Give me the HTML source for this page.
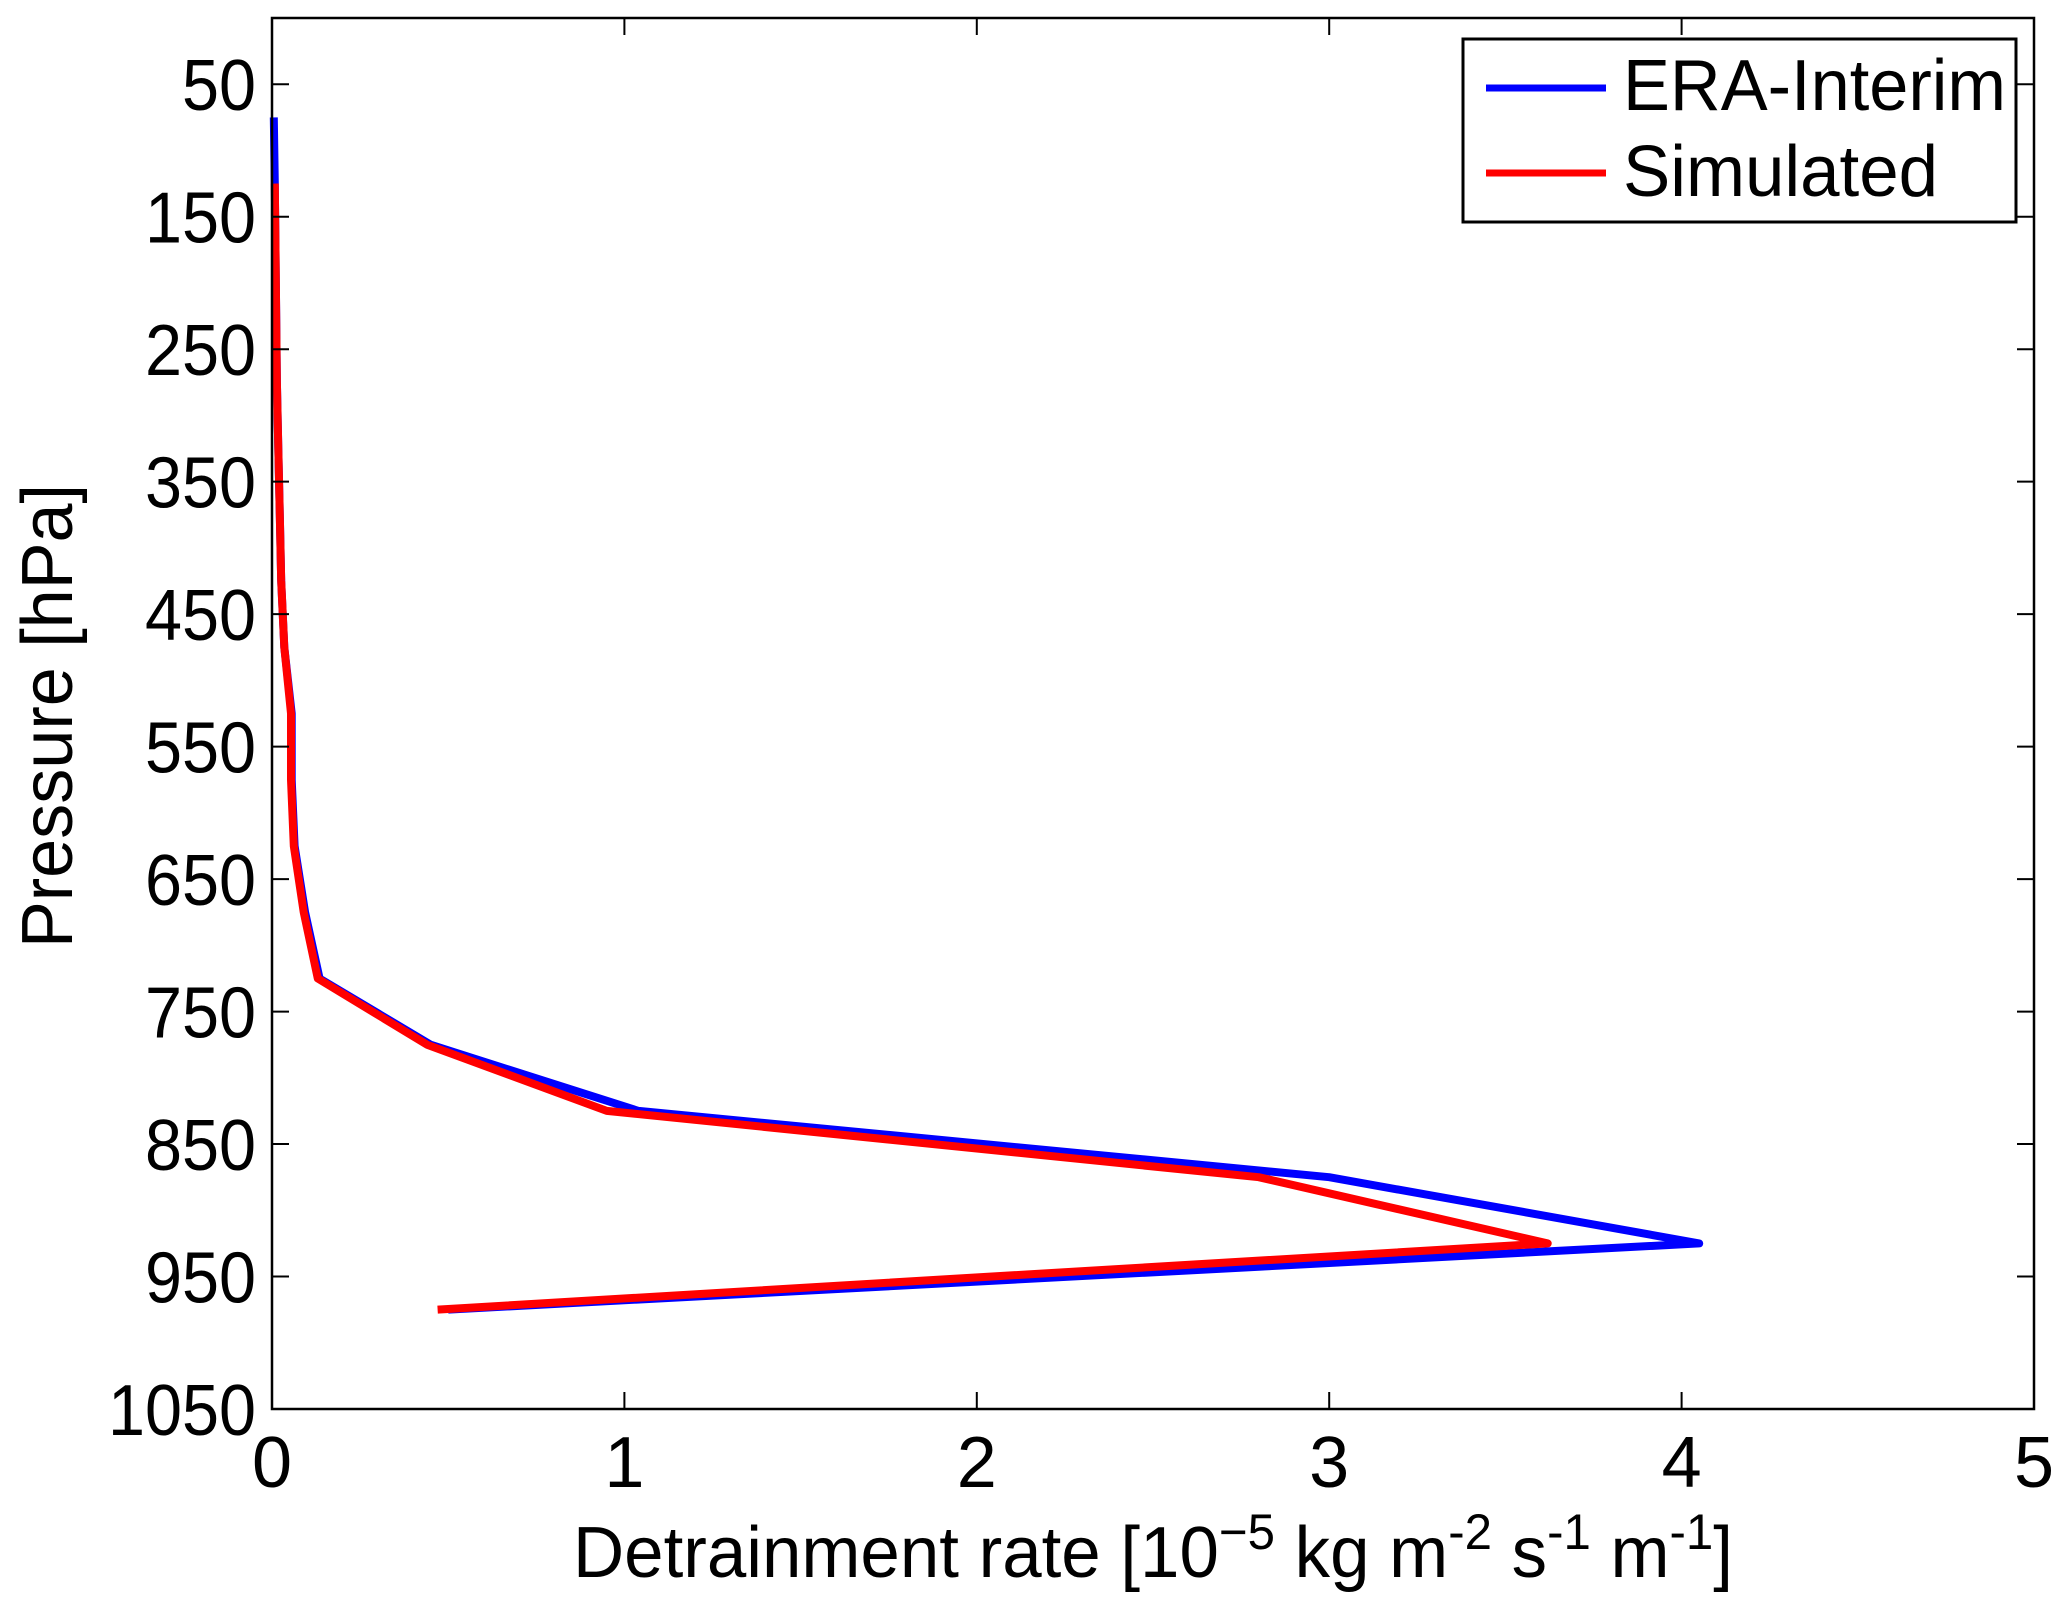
<!DOCTYPE html>
<html><head><meta charset="utf-8">
<style>
html,body{margin:0;padding:0;background:#fff;}
svg{display:block;font-family:"Liberation Sans",Arial,sans-serif;}
</style></head>
<body>
<svg id="chart" width="2067" height="1610" viewBox="0 0 2067 1610">
  <rect x="0" y="0" width="2067" height="1610" fill="#fff"/>
  <g id="plot"></g>
  <g id="axes"></g>
  <g id="legend">
    <rect x="1463" y="39" width="553" height="183" fill="#fff" stroke="#000" stroke-width="3"/>
    <line x1="1486" y1="88" x2="1606" y2="88" stroke="#0000ff" stroke-width="7"/>
    <text x="1623" y="110" font-size="72" textLength="383" lengthAdjust="spacingAndGlyphs">ERA-Interim</text>
    <line x1="1486" y1="173" x2="1606" y2="173" stroke="#ff0000" stroke-width="7"/>
    <text x="1623" y="196" font-size="72" textLength="315" lengthAdjust="spacingAndGlyphs">Simulated</text>
  </g>
  <text x="1153" y="1577" font-size="72" text-anchor="middle" textLength="1160" lengthAdjust="spacingAndGlyphs">Detrainment rate [10<tspan dy="-28" font-size="50">−5</tspan><tspan dy="28"> kg m</tspan><tspan dy="-28" font-size="50">-2</tspan><tspan dy="28"> s</tspan><tspan dy="-28" font-size="50">-1</tspan><tspan dy="28"> m</tspan><tspan dy="-28" font-size="50">-1</tspan><tspan dy="28">]</tspan></text>
  <text transform="translate(72,716) rotate(-90)" font-size="72" text-anchor="middle" textLength="464" lengthAdjust="spacingAndGlyphs">Pressure [hPa]</text>
</svg>
<script>
const pressureLevels = [75,125,175,225,275,325,375,425,475,525,575,625,675,725,775,825,875,925,975];
const eraValues = [0.005,0.008,0.010,0.012,0.014,0.018,0.022,0.026,0.035,0.056,0.056,0.064,0.094,0.135,0.45,1.04,3.0,4.05,0.5];
const simLevels = [125,175,225,275,325,375,425,475,525,575,625,675,725,775,825,875,925,975];
const simValues = [0.008,0.010,0.012,0.014,0.018,0.022,0.026,0.035,0.054,0.054,0.062,0.09,0.13,0.44,0.95,2.8,3.62,0.47];
const xTicks = [0,1,2,3,4,5];
const yTicks = [50,150,250,350,450,550,650,750,850,950,1050];

const L=272,R=2034,T=18,B=1409;
const xMin=0,xMax=5,yMin=0,yMax=1050;
function xs(v){return L+(v-xMin)/(xMax-xMin)*(R-L);}
function ys(p){return T+(p-yMin)/(yMax-yMin)*(B-T);}
const NS="http://www.w3.org/2000/svg";
const plot=document.getElementById('plot');
const axes=document.getElementById('axes');

function mk(tag,attrs,parent){const e=document.createElementNS(NS,tag);for(const k in attrs)e.setAttribute(k,attrs[k]);parent.appendChild(e);return e;}

function series(vals,levels,color,name){
  const d=vals.map((v,i)=>(i?'L':'M')+xs(v).toFixed(1)+','+ys(levels[i]).toFixed(1)).join(' ');
  const p=mk('path',{d:d,fill:'none',stroke:color,'stroke-width':8,'stroke-linejoin':'round'},plot);
  
  
}
series(eraValues,pressureLevels,'#0000ff','era-interim-line');
series(simValues,simLevels,'#ff0000','simulated-line');

const frame=mk('rect',{x:L,y:T,width:R-L,height:B-T,fill:'none',stroke:'#000','stroke-width':2.5},axes);



xTicks.forEach(v=>{
  const x=xs(v);
  mk('line',{x1:x,y1:B,x2:x,y2:B-17,stroke:'#000','stroke-width':2},axes);
  mk('line',{x1:x,y1:T,x2:x,y2:T+17,stroke:'#000','stroke-width':2},axes);
  const t=mk('text',{x:x,y:1487,'font-size':72,'text-anchor':'middle'},axes);
  t.textContent=String(v);
  
  
});
yTicks.forEach(v=>{
  const y=ys(v);
  mk('line',{x1:L,y1:y,x2:L+17,y2:y,stroke:'#000','stroke-width':2},axes);
  mk('line',{x1:R,y1:y,x2:R-17,y2:y,stroke:'#000','stroke-width':2},axes);
  const s=String(v);
  const t=mk('text',{x:256,y:y+26,'font-size':72,'text-anchor':'end',textLength:37*s.length,lengthAdjust:'spacingAndGlyphs'},axes);
  t.textContent=s;
  
  
});
</script>
</body></html>
